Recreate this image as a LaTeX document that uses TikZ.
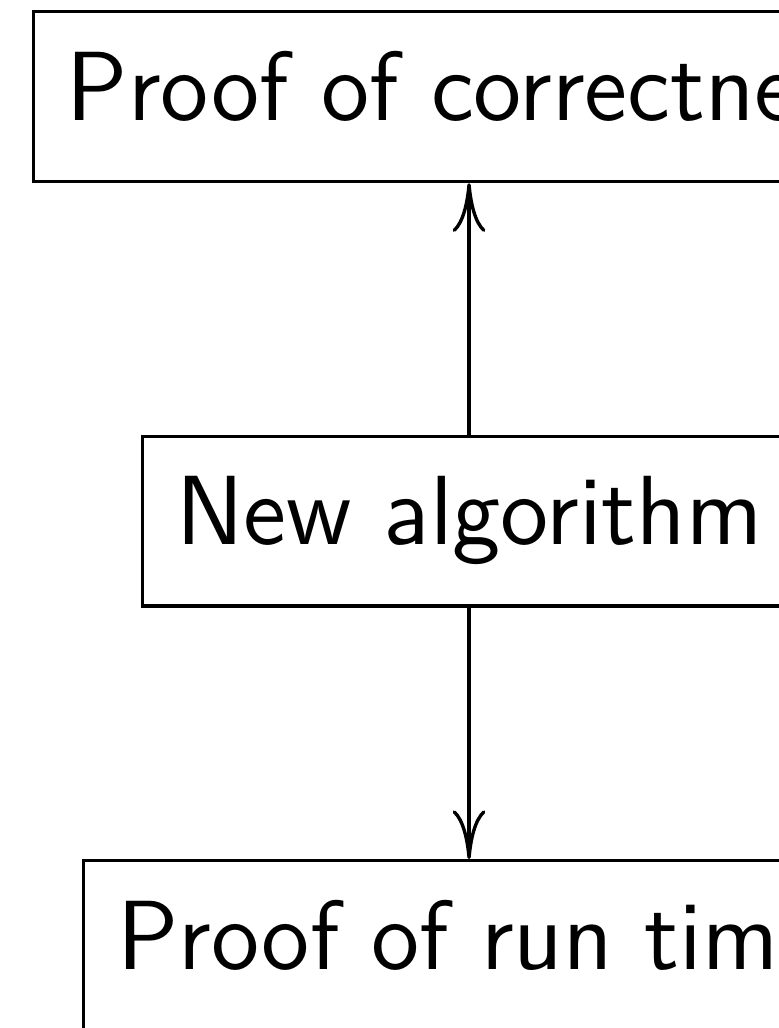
\documentclass[tikz,border=0pt]{standalone}
\usetikzlibrary{positioning,arrows.meta}
\tikzset{
    stepbox/.style={draw, line width=0.4pt, font=\fontsize{11.7}{14}\selectfont\sffamily,
        text height=8.6pt, text depth=3pt, inner xsep=4pt, inner ysep=4.3pt},
    cmarrow/.style={line width=0.4pt, -{Computer Modern Rightarrow[length=5.8pt,width=3.9pt]}},
}

\begin{document}
\begin{tikzpicture}
\useasboundingbox (0,0) rectangle (92.6pt,122.3pt);

\node[stepbox] (alg) at (55.8pt,60.3pt) {New algorithm};
\node[stepbox, above=29.9pt of alg] (correct) {Proof of correctness};
\node[stepbox, below=29.9pt of alg] (runtime) {Proof of run time};

\draw[cmarrow] (alg) -- (correct);
\draw[cmarrow] (alg) -- (runtime);
\end{tikzpicture}
\end{document}
